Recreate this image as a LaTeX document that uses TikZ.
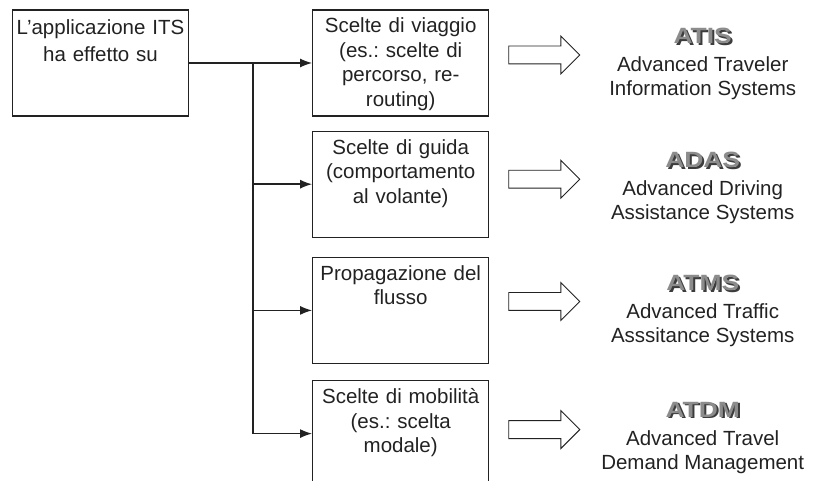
\documentclass[tikz,border=0pt]{standalone}
\usepackage{fontspec}
\setmainfont{Liberation Sans}
\usepackage{graphicx}
\usepackage{tikz}
\usetikzlibrary{positioning,shapes.arrows,arrows.meta}
\definecolor{inkgray}{HTML}{222222}
\definecolor{titlegray}{HTML}{8C8C8C}
\definecolor{titleshade}{HTML}{3C3C3C}
\newcommand{\sysname}[1]{\scalebox{1.1}[0.92]{\fontsize{24}{24}\selectfont\bfseries\rlap{\hspace{1.8pt}\raisebox{-1.8pt}{\color{titleshade}#1}}{\color{titlegray}#1}}}
\frenchspacing

\begin{document}
\begin{tikzpicture}[x=1pt,y=1pt,
  box/.style={draw=inkgray, line width=1.2pt, text=inkgray, text width=170pt, align=center,
    inner xsep=3pt, inner ysep=4pt, text height=19pt, text depth=79pt,
    font=\fontsize{20.5}{24.5}\selectfont},
  feed/.style={draw=inkgray, line width=1.4pt, -{Latex[length=12pt,width=9pt]}},
  bigarrow/.style={single arrow, draw=inkgray, line width=0.9pt, minimum height=71pt,
    inner xsep=0pt, inner ysep=8.5pt, single arrow head extend=10pt},
  sys/.style={text=inkgray, align=center, inner sep=0pt, font=\fontsize{20.5}{24}\selectfont}]

  \useasboundingbox (0,0) rectangle (813,-481);

  % Nodes

  \node[box, text height=21pt, text depth=77pt] (its) at (100.5,-63) {L’applicazione ITS\\[2.5pt]ha effetto su} ; %
  \node[box, right=123pt of its] (viaggio) {Scelte di viaggio\\(es.: scelte di\\percorso, re-\\routing)} ; %
  \node[box, below=14pt of viaggio] (guida) {Scelte di guida\\(comportamento\\al volante)} ; %
  \node[box, below=19pt of guida] (flusso) {Propagazione del\\flusso} ; %
  \node[box, below=16pt of flusso] (mobilita) {Scelte di mobilità\\(es.: scelta\\modale)} ; %

  \coordinate[right=64pt of its.east] (branch) ;

  % Block arrows
  \node[bigarrow, right=19pt of viaggio, yshift=8pt] (arr1) {} ; %
  \node[bigarrow, right=19pt of guida, yshift=5pt] (arr2) {} ; %
  \node[bigarrow, right=19pt of flusso, yshift=9pt] (arr3) {} ; %
  \node[bigarrow, right=19pt of mobilita, yshift=4pt] (arr4) {} ; %

  % Systems
  \node[sys] (atis) at ([xshift=302pt,yshift=-1pt]viaggio.center) {\sysname{ATIS}\\[4pt]Advanced Traveler\\Information Systems} ; %
  \node[sys] (adas) at ([xshift=302pt,yshift=-4pt]guida.center) {\sysname{ADAS}\\[4pt]Advanced Driving\\Assistance Systems} ; %
  \node[sys] (atms) at ([xshift=302pt,yshift=-1pt]flusso.center) {\sysname{ATMS}\\[4pt]Advanced Traffic\\Asssitance Systems} ; %
  \node[sys] (atdm) at ([xshift=302pt,yshift=-4pt]mobilita.center) {\sysname{ATDM}\\[4pt]Advanced Travel\\Demand Management} ; %

  \draw[feed] (its) -- (viaggio) ; %
  \draw[feed] (branch) |- (guida) ; %
  \draw[feed] (branch) |- (flusso) ; %
  \draw[feed] (branch) |- (mobilita) ; %

\end{tikzpicture}
\end{document}
